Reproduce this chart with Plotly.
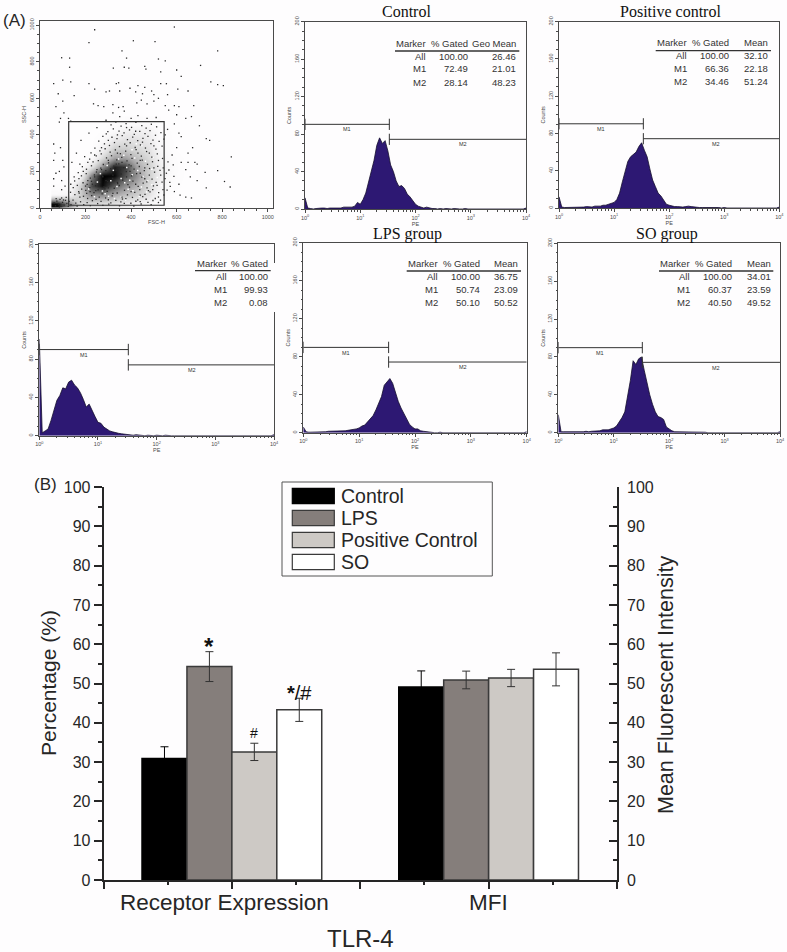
import math
import plotly.graph_objects as go

W, H = 787, 952
SANS = "Liberation Sans"
SERIF = "Liberation Serif"
INK = "#262626"

# ---------- Panel B data ----------
GROUPS = [0, 1]
GROUP_LABELS = ["Receptor Expression", "MFI"]
SERIES = ["Control", "LPS", "Positive Control", "SO"]
RECEPTOR = [30.9, 54.3, 32.6, 43.3]
RECEPTOR_ERR = [3.0, 3.8, 2.2, 2.95]
MFI = [49.1, 50.9, 51.4, 53.6]
MFI_ERR = [4.1, 2.25, 2.2, 4.2]
BAR_COLORS = ["#000000", "#857e7b", "#cdc9c5", "#ffffff"]
BAR_EDGES = ["#000000", "#3a3a3a", "#3a3a3a", "#3a3a3a"]
ERR_COLORS = ["#000000", "#333333", "#333333", "#333333"]

# ---------- Panel A data: dot plot ----------
FSC_BINS = [75, 125, 175, 225, 275, 325, 375, 425, 475, 525, 575, 625, 675]
SSC_BINS = [25, 75, 125, 175, 225, 275, 325, 375, 425, 475]
DENSITY = [
    [.98, .70, .40, .38, .36, .34, .28, .22, .17, .10, .03, .01, 0],
    [.15, .20, .42, .68, .68, .58, .50, .44, .33, .15, .05, .02, 0],
    [.05, .08, .40, .84, .98, .80, .66, .55, .38, .20, .07, .04, .01],
    [.03, .04, .16, .70, 1.0, .98, .82, .66, .44, .25, .10, .05, .02],
    [.02, .03, .05, .32, .66, .94, .88, .60, .44, .25, .12, .05, .02],
    [.02, .02, .02, .11, .38, .60, .60, .50, .38, .20, .10, .05, .02],
    [.02, .01, .01, .04, .22, .44, .44, .38, .33, .15, .06, .02, .01],
    [.01, .01, .01, .03, .11, .28, .33, .33, .27, .12, .05, .02, .01],
    [.01, 0, 0, .02, .05, .13, .22, .22, .22, .10, .04, .01, 0],
    [0, 0, 0, .01, .02, .05, .08, .08, .08, .05, .02, 0, 0],
]
DOTS = [
 (240,975),(590,990),(215,905),(410,915),(505,910),(360,860),(380,820),(95,822),(130,820),(780,860),
 (550,805),(705,780),(520,815),(130,770),(322,765),(370,770),(390,765),(460,775),(465,760),(530,745),
 (600,755),(620,720),(750,690),(780,675),(805,670),(60,680),(100,700),(135,690),(215,680),(240,650),
 (335,680),(345,685),(430,670),(460,660),(490,640),(530,680),(555,680),(605,650),(650,640),(290,635),
 (305,640),(350,640),(395,655),(420,635),(450,625),(500,620),(520,600),(560,620),(590,560),(610,555),
 (675,560),(100,585),(80,625),(150,615),(70,555),(105,520),(125,490),(135,475),(85,470),(90,490),
 (235,570),(255,560),(280,555),(320,565),(345,550),(365,555),(425,575),(445,590),(470,570),(500,585),
 (550,560),(565,535),(600,510),(640,490),(665,500),(700,450),(730,380),(745,370),(840,280),(780,205),
 (810,145),(835,115),(725,195),(730,110),(690,150),(680,250),(650,250),(620,250),(640,210),(660,170),
 (610,130),(615,70),(640,60),(665,55),(590,90),(570,140),(555,190),(580,290),(600,330),(620,390),
 (560,430),(590,460),(610,410),(550,400),(650,300),(670,330),(690,240),(60,350),(65,300),(60,260),
 (70,190),(60,160),(60,120),(85,200),(95,150),(95,100),(110,120),(90,330),(100,260),(105,225),
 (320,520),(350,500),(370,530),(400,490),(430,505),(470,490),(510,495),(290,480),(250,440),(215,410),
 (180,370),(160,300),(140,250),(150,170),(135,130),(170,90),(230,40),(300,45),(370,25),(440,35),
 (520,60),(540,100),(510,140),(530,180),(500,220),(520,260),(480,300),(500,340),(450,360),(420,420),
 (380,440),(340,400),(300,370),(270,330),(240,290),(210,250),(190,200),(175,240),(200,120),(220,90),
 (260,60),(320,80),(360,60),(400,90),(440,70),(470,110),(460,160),(420,130),(400,230),(440,260),
 (460,220),(430,300),(380,340),(340,300),(300,260),(270,210),(240,170),(210,150),(260,120),(300,110),
 (340,140),(380,170),(350,210),(320,180),(290,150),(250,210),(230,130),(275,175),(310,215),(360,250),
 (395,200),(335,240),(285,105),(245,95),(205,80),(175,60),(440,190),(480,180),(495,100),(520,30),
 (312,455),(333,470),(356,448),(378,462),(402,441),(421,468),(447,451),(466,437),(489,458),(512,444),
 (298,418),(322,433),(347,421),(369,411),(393,427),(414,403),(438,419),(461,407),(483,423),(507,398),
 (531,412),(276,392),(291,405),(316,387),(338,379),(361,396),(384,374),(407,388),(429,369),(452,381),
 (474,392),(496,371),(523,364),(544,377),(258,366),(283,351),(305,342),(327,358),(349,336),(372,349),
 (396,357),(418,331),(441,345),(463,328),(487,352),(509,322),(536,338),(241,328),(263,312),(286,324),
 (308,306),(331,318),(353,297),(376,311),(399,292),(422,319),(445,284),(468,309),(491,278),(515,296),
 (538,271),(562,252),(585,236),(224,302),(247,285),(269,296),(292,274),(314,286),(337,263),(359,277),
 (382,258),(404,271),(427,246),(449,262),(472,239),(494,253),(517,228),(541,219),(566,208),(588,173),
 (196,281),(218,267),(233,252),(256,259),(278,238),(301,247),(324,229),(346,241),(368,221),(391,236),
 (413,213),(436,227),(458,204),(481,216),(503,196),(527,206),(549,161),(572,118),(186,226),(204,212),
 (226,231),(248,197),(267,218),(289,204),(312,193),(334,207),(357,186),(379,199),(402,176),(424,188),
 (447,169),(469,143),(492,158),(514,124),(536,142),(558,98),(168,194),(182,176),(203,188),(221,163),
 (239,181),(258,158),(276,171),(297,146),(319,162),(341,134),(363,152),(386,128),(408,147),(431,118),
 (453,136),(476,95),(498,121),(521,84),(544,71),(152,148),(171,161),(189,138),(207,129),(226,146),
 (244,122),(262,139),(281,116),(303,131),(326,108),(348,123),(371,97),(393,114),(416,86),(438,101),
 (461,74),(483,88),(506,52),(529,43),(146,112),(164,124),(183,103),(201,96),(219,111),(237,84),
 (255,99),(273,77),(295,91),(317,66),(339,82),(362,49),(384,72),(406,58),(429,44),(451,62),
 (474,31),(496,41),(134,86),(153,73),(172,81),(191,64),(209,52),(227,68),(246,47),(268,36),
 (288,55),(311,28),(333,42),(355,33),(377,51),(399,26),(421,37),(444,22),(466,48),(488,19),
 (68,12),(74,38),(81,22),(88,47),(92,8),(99,31),(106,16),(112,42),(118,25),(124,9),
 (62,28),(71,51),(85,6),(95,55),(103,44),(115,58),(128,36),(136,18),(145,43),(157,27),
 (163,11),(178,34),(192,19),(207,29),(221,13),(253,24),(276,14),(302,21),(349,12),(412,11),
]
SPECKS = [
 (372,138),(408,94),(452,173),(491,212),(357,61),(416,273),(473,148),(327,52),(394,152),(436,63),
 (286,78),(515,167),(463,256),(345,268),(404,318),(447,342),(491,127),(429,205),(376,44),(518,79),
 (295,233),(252,142),(214,104),(338,117),(301,64),(387,103),(468,88),(533,123),(368,289),(423,351),
 (239,62),(274,93),(311,149),(265,188),(322,206),(356,162),(405,182),(445,115),(496,276),(381,222),
]
GATE_FSC = [126, 545]
GATE_SSC = [15, 473]

# ---------- Panel A data: histograms ----------
PE_LOG = [
 0.00,0.05,0.10,0.15,0.20,0.25,0.30,0.35,0.40,0.45,0.50,0.55,0.60,0.65,0.70,0.75,0.80,0.85,0.90,0.95,
 1.00,1.05,1.10,1.15,1.20,1.25,1.30,1.35,1.40,1.45,1.50,1.55,1.60,1.65,1.70,1.75,1.80,1.85,1.90,1.95,
 2.00,2.05,2.10,2.15,2.20,2.25,2.30,2.35,2.40,2.45,2.50,2.55,2.60,2.65,2.70,2.75,2.80,2.85,2.90,2.95,
 3.00,3.05,3.10,3.15,3.20,3.25,3.30,3.35,3.40,3.45,3.50,3.55,3.60,3.65,3.70,3.75,3.80,3.85,3.90,3.95,4.00]
H_CONTROL = [
 12,1,.5,0,.5,1,1,1,.5,1,1,1,1.5,1,2,2,1.5,2,3,7,
 5,10,17,28,38,52,68,76,70,73,62,47,40,30,24,25,22,16,13,9,
 5,3,2,1,2,1,.5,.5,0,.5,0,.5,0,0,.5,0,0,0,.5,0,
 0,0,.5,0,0,0,0,0,.5,0,0,0,0,0,0,.5,0,0,0,0,1]
H_POSITIVE = [
 12,1,.5,.5,.5,1,1,1,1,1,1.5,1,1,2,2,2,3,3,4,5,
 6,9,16,28,40,50,55,58,60,66,70,62,55,42,30,23,16,13,8,4,
 3,2,1.5,1.5,1,1,1.5,2,1.5,1,1,.5,.5,.5,.5,.5,.5,1,.5,0,
 .5,0,0,0,0,.5,0,0,0,0,0,0,0,0,0,0,0,0,0,0,1]
H_NEGATIVE = [
 101,3,5,7,16,26,37,42,50,49,56,58,53,50,45,38,30,33,26,20,
 14,13,9,7,5,4,3,2.5,2,1.5,1,1,.5,1,.5,.5,0,.5,0,0,
 .5,0,0,.5,0,0,0,0,0,0,.5,0,0,0,0,0,0,0,0,0,
 0,0,0,0,0,0,0,0,0,0,0,0,0,0,0,0,0,0,0,0,1]
H_LPS = [
 6,1,.5,.5,.5,.5,1,.5,1,1.5,1.5,2,2,1.5,2,2,2.5,3,3,4,
 5,7,8,11,14,18,24,31,38,50,54,57,52,42,33,26,20,15,9,6,
 4,4,2,1.5,1,.5,.5,0,0,.5,0,0,0,0,0,0,0,0,0,0,
 0,0,0,0,0,0,0,0,0,0,0,0,0,0,0,0,0,0,0,0,1]
H_SO = [
 19,1,1,1,.5,.5,.5,1,1,1,1.5,1,1.5,1.5,2,2,3,3,3,4,
 5,7,11,16,22,38,55,76,72,78,80,66,52,40,30,22,17,16,14,6,
 4,2,1,1,.5,.5,.5,.5,1,.5,1,.5,1,.5,0,0,0,0,0,0,
 0,0,.5,0,0,0,0,0,0,0,0,0,0,0,0,0,0,0,0,0,1]
PE_TICKS = [1, 10, 100, 1000, 10000]
PE_TICK_TEXT = ["10<sup>0</sup>", "10<sup>1</sup>", "10<sup>2</sup>", "10<sup>3</sup>", "10<sup>4</sup>"]

TABLE_CONTROL = [["Marker", "% Gated", "Geo Mean"], ["All", "100.00", "26.46"], ["M1", "72.49", "21.01"], ["M2", "28.14", "48.23"]]
TABLE_POSITIVE = [["Marker", "% Gated", "Mean"], ["All", "100.00", "32.10"], ["M1", "66.36", "22.18"], ["M2", "34.46", "51.24"]]
TABLE_NEGATIVE = [["Marker", "% Gated"], ["All", "100.00"], ["M1", "99.93"], ["M2", "0.08"]]
TABLE_LPS = [["Marker", "% Gated", "Mean"], ["All", "100.00", "36.75"], ["M1", "50.74", "23.09"], ["M2", "50.10", "50.52"]]
TABLE_SO = [["Marker", "% Gated", "Mean"], ["All", "100.00", "34.01"], ["M1", "60.37", "23.59"], ["M2", "40.50", "49.52"]]


def px(x):
    return x / W


def py(y):
    return 1 - y / H


fig = go.Figure()
layout = dict(
    width=W, height=H, autosize=False, margin=dict(l=0, r=0, t=0, b=0),
    paper_bgcolor="#fefdfe", plot_bgcolor="rgba(0,0,0,0)", showlegend=False,
    barmode="group", bargap=0.3, bargroupgap=0,
    font=dict(family=SANS, color=INK),
)
annotations, shapes = [], []


def label(x, y, text, size, family=SANS, anchor="center", angle=0, color=INK):
    annotations.append(dict(xref="paper", yref="paper", x=px(x), y=py(y), text=text, showarrow=False,
                            font=dict(size=size, family=family, color=color), xanchor=anchor,
                            yanchor="middle", textangle=angle, borderpad=0, borderwidth=0))


def small_axes(n, box, xtitle, ytitle):
    x0, x1, y0, y1 = box
    common = dict(showgrid=False, zeroline=False, showline=True, mirror=True, linecolor="#4a4a4a", linewidth=1.2,
                  ticks="outside", tickcolor="#4a4a4a", tickwidth=.8, ticklen=3, automargin=False,
                  tickfont=dict(size=5.5, color="#4a4a4a", family=SANS))
    layout[f"xaxis{n}"] = dict(domain=[px(x0), px(x1)], anchor=f"y{n}",
                               title=dict(text=xtitle, standoff=1, font=dict(size=5.5, color="#4a4a4a")), **common)
    layout[f"yaxis{n}"] = dict(domain=[py(y1), py(y0)], anchor=f"x{n}", tickangle=-90,
                               title=dict(text=ytitle, standoff=1, font=dict(size=5.5, color="#4a4a4a")), **common)


def hist_panel(n, box, counts, split, m1_y, m2_y, m2_x, table, cols, rows, rule):
    small_axes(n, box, "PE", "Counts")
    layout[f"xaxis{n}"].update(type="log", range=[0, 4], tickvals=PE_TICKS, ticktext=PE_TICK_TEXT,
                               minor=dict(ticks="outside", ticklen=1.5, tickcolor="#4a4a4a", tickwidth=.6,
                                          tickvals=[m * d for d in PE_TICKS[:4] for m in (2, 3, 4, 5, 6, 7, 8, 9)]))
    layout[f"yaxis{n}"].update(range=[0, 200], tickvals=[0, 40, 80, 120, 160, 200],
                               minor=dict(ticks="outside", ticklen=1.5, tickcolor="#4a4a4a", tickwidth=.6, dtick=10))
    fig.add_trace(go.Scatter(x=[10 ** v for v in PE_LOG], y=counts, mode="lines", fill="tozeroy",
                             line=dict(color="#17102e", width=.8), fillcolor="#2d1873",
                             xaxis=f"x{n}", yaxis=f"y{n}", name="PE histogram"))
    fig.add_trace(go.Scatter(x=[1, split, None, split, split, None, 1, 1], y=[m1_y, m1_y, None, m1_y - 6, m1_y + 6, None, m1_y - 6, m1_y + 6],
                             mode="lines", line=dict(color="#333333", width=1), xaxis=f"x{n}", yaxis=f"y{n}", name="M1"))
    fig.add_trace(go.Scatter(x=[split, 10000, None, split, split], y=[m2_y, m2_y, None, m2_y - 6, m2_y + 6],
                             mode="lines", line=dict(color="#333333", width=1), xaxis=f"x{n}", yaxis=f"y{n}", name="M2"))
    for text, tx, ty in (("M1", split ** .5, m1_y - 5.5), ("M2", m2_x, m2_y - 5.5)):
        annotations.append(dict(xref=f"x{n}", yref=f"y{n}", x=math.log10(tx), y=ty, text=text, showarrow=False,
                                font=dict(size=5.5, color="#333333")))
    for r, row in enumerate(table):
        for c, cell in enumerate(row):
            label(cols[c], rows[r], cell, 9.5, anchor="right", color="#333333")
    shapes.append(dict(type="line", xref="paper", yref="paper", x0=px(rule[0]), x1=px(rule[1]), y0=py(rule[2]), y1=py(rule[2]),
                       line=dict(color="#333333", width=1.3)))


# ----- dot plot (axis 1) -----
small_axes(1, (40, 273, 21, 208), "FSC-H", "SSC-H")
dot_ticks = [0, 200, 400, 600, 800, 1000]
layout["xaxis1"].update(range=[0, 1023], tickvals=dot_ticks, minor=dict(ticks="outside", ticklen=1.5, tickcolor="#4a4a4a", tickwidth=.6, dtick=50))
layout["yaxis1"].update(range=[0, 1023], tickvals=dot_ticks, minor=dict(ticks="outside", ticklen=1.5, tickcolor="#4a4a4a", tickwidth=.6, dtick=50))
fig.add_trace(go.Heatmap(x=FSC_BINS, y=SSC_BINS, z=DENSITY, zmin=0, zmax=1, zsmooth="best", showscale=False,
                         colorscale=[[0, "rgba(255,255,255,0)"], [1, "#000000"]], xaxis="x1", yaxis="y1", name="events"))
fig.add_trace(go.Scatter(x=[p[0] for p in SPECKS], y=[p[1] for p in SPECKS], mode="markers",
                         marker=dict(size=1.5, color="#ffffff", symbol="square"), xaxis="x1", yaxis="y1", name="gaps"))
fig.add_trace(go.Scatter(x=[p[0] for p in DOTS], y=[p[1] for p in DOTS], mode="markers",
                         marker=dict(size=1.3, color="#2a2a2a", symbol="square"), xaxis="x1", yaxis="y1", name="events"))
shapes.append(dict(type="rect", xref="x1", yref="y1", x0=GATE_FSC[0], x1=GATE_FSC[1], y0=GATE_SSC[0], y1=GATE_SSC[1],
                   line=dict(color="#333333", width=1.2)))

# ----- histograms -----
hist_panel(2, (305, 526, 21.7, 209), H_CONTROL, 33.6, 90.4, 74.4, 710, TABLE_CONTROL,
           (426, 467.7, 515.7), (43.3, 56, 69, 82.3), (395, 519.3, 51))
hist_panel(3, (559, 779.3, 21.7, 208), H_POSITIVE, 34, 90.4, 74.4, 710, TABLE_POSITIVE,
           (687.3, 729, 767.7), (42.7, 55.7, 68.3, 81.7), (655.7, 771, 50.7))
hist_panel(4, (39.3, 274, 244.3, 435.7), H_NEGATIVE, 32.9, 90, 74, 400, TABLE_NEGATIVE,
           (226.7, 268.3), (263.3, 276, 289, 302), (195, 270.7, 270.7))
hist_panel(5, (303.3, 526.7, 242.7, 432.7), H_LPS, 33.7, 89.8, 74.4, 710, TABLE_LPS,
           (437.7, 479.7, 518.3), (263.7, 276.7, 289.3, 302.3), (406.7, 521, 271))
hist_panel(6, (558.3, 780, 243.3, 432.7), H_SO, 32.8, 89.8, 74.3, 710, TABLE_SO,
           (690, 731.7, 770.7), (263.7, 276.7, 289.3, 302.3), (659, 773.3, 271))

# the pasted table masks the right frame of the lower-left panel
shapes.append(dict(type="rect", xref="paper", yref="paper", x0=px(272), x1=px(277), y0=py(263), y1=py(312),
                   fillcolor="#fefdfe", line=dict(width=0), layer="above"))

label(406.7, 12, "Control", 16, SERIF, color="#111111")
label(670, 12, "Positive control", 16, SERIF, color="#111111")
label(407, 234, "LPS group", 16, SERIF, color="#111111")
label(667, 234, "SO group", 16, SERIF, color="#111111")
label(3, 20, "(A)", 17, anchor="left")
label(34, 485, "(B)", 17, anchor="left")

# ----- panel B bars -----
for i, name in enumerate(SERIES):
    fig.add_trace(go.Bar(x=GROUPS, y=[RECEPTOR[i], MFI[i]], name=name, marker=dict(color=BAR_COLORS[i], line=dict(color=BAR_EDGES[i], width=1.5)),
                         error_y=dict(type="data", array=[RECEPTOR_ERR[i], MFI_ERR[i]], color=ERR_COLORS[i], thickness=1, width=4),
                         xaxis="x7", yaxis="y7"))
fig.add_trace(go.Scatter(x=GROUPS, y=[MFI[0], MFI[0]], mode="markers", marker=dict(opacity=0), xaxis="x7", yaxis="y8", hoverinfo="skip"))

bar_minor = dict(ticks="outside", ticklen=4, tickcolor=INK, tickwidth=1.5, dtick=5)
layout["xaxis7"] = dict(domain=[px(103.5), px(617)], anchor="y7", range=[-0.5, 1.5], showgrid=False, zeroline=False, automargin=False,
                        showline=True, linecolor=INK, linewidth=1.6, ticks="outside", ticklen=7, tickwidth=1.5, tickcolor=INK,
                        tickvals=[-.5, 0, .5, 1, 1.5], showticklabels=False,
                        minor=dict(ticks="outside", ticklen=3, tickcolor=INK, tickwidth=1.5, tickvals=[-.25, .25, .75, 1.25]))
layout["yaxis7"] = dict(domain=[py(880), py(487)], anchor="x7", range=[0, 100], showgrid=False, zeroline=False, showline=True, automargin=False,
                        linecolor=INK, linewidth=1.6, ticks="outside", ticklen=8, tickwidth=1.5, tickcolor=INK,
                        tickvals=list(range(0, 101, 10)), tickfont=dict(size=16, color=INK), minor=bar_minor)
layout["yaxis8"] = dict(domain=[py(880), py(487)], anchor="x7", overlaying="y7", side="right", range=[0, 100], showgrid=False, zeroline=False, automargin=False,
                        showline=True, linecolor=INK, linewidth=1.6, ticks="inside", ticklen=8, tickwidth=1.5, tickcolor=INK,
                        tickvals=list(range(0, 101, 10)), tickfont=dict(size=16, color=INK), ticklabelstandoff=5,
                        minor=dict(ticks="inside", ticklen=4, tickcolor=INK, tickwidth=1.5, dtick=5))

# significance marks
for xv, yv, text, size in ((-.0875, 59.3, "<b>*</b>", 24), (.0875, 37.4, "#", 14), (.2625, 47.6, "<b>*</b>/#", 20)):
    annotations.append(dict(xref="x7", yref="y7", x=xv, y=yv, text=text, showarrow=False,
                            font=dict(size=size, color="#111111", family=SANS)))

label(225, 902, GROUP_LABELS[0], 22.5)
label(488.7, 902, GROUP_LABELS[1], 22.5)
label(48, 683, "Percentage (%)", 21, angle=-90)
label(666, 685, "Mean Fluorescent Intensity", 21.5, angle=-90)
label(360, 938, "TLR-4", 24)

# legend box, drawn to the reference's swatch size
shapes.append(dict(type="rect", xref="paper", yref="paper", x0=px(282), x1=px(492.3), y0=py(482), y1=py(576),
                   line=dict(color="#555555", width=1), fillcolor="#fefdfe", layer="above"))
for i, (name, cy) in enumerate(zip(SERIES, (496, 518, 540, 562))):
    shapes.append(dict(type="rect", xref="paper", yref="paper", x0=px(292.3), x1=px(334.3), y0=py(cy - 7.6), y1=py(cy + 7.6),
                       fillcolor=BAR_COLORS[i], line=dict(color=BAR_EDGES[i], width=1.2), layer="above"))
    label(340.5, cy, name, 19.5, anchor="left")

layout["annotations"] = annotations
layout["shapes"] = shapes
fig.update_layout(**layout)
fig.write_html("out.html", config={"displayModeBar": False}, post_script="document.body.style.margin='0';")
